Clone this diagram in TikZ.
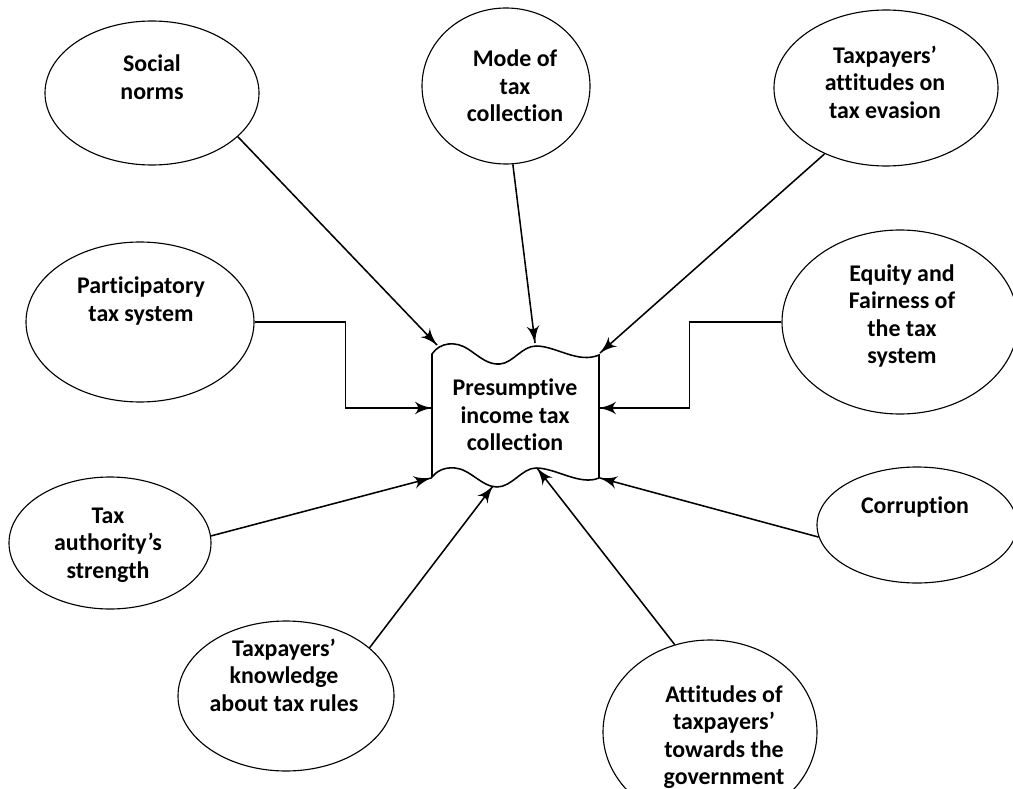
\documentclass[tikz,border=0pt]{standalone}
\usepackage{fontspec}
\setmainfont{Carlito}[Ligatures={TeX,NoCommon}]
\usetikzlibrary{arrows}
\usetikzlibrary{decorations.markings}
\usetikzlibrary{shapes.geometric}
\tikzset{feed/.style = {line width = 1.1pt,
                        decoration={markings,
                                    mark=at position 1 with {\arrow[scale=2]{latex'}}},
                        postaction={decorate}}}
\tikzset{factor/.style 2 args = {draw, ellipse, line width = 0.8pt, inner sep = 0,
                                 minimum width = #1*0.5mm, minimum height = #2*0.5mm}}
\tikzset{lbl/.style = {align = center, inner sep = 0,
                       font = \bfseries\fontsize{17}{19.6}\selectfont}}

\begin{document}
\begin{tikzpicture}[x=0.25mm, y=-0.25mm]
  \useasboundingbox (0, 0) rectangle (1013, 789);

  \node [factor={107}{72}] (soc) at (152, 93) {};
  \node [lbl] (soc-t) at (152, 77) {Social\\norms};
  \node [factor={84}{78}] (mode) at (506, 86) {};
  \node [lbl] (mode-t) at (515, 86) {Mode of\\tax\\collection};
  \node [factor={112}{78}] (evas) at (886, 88) {};
  \node [lbl] (evas-t) at (885, 82) {Taxpayers’\\attitudes on\\tax evasion};
  \node [factor={114}{80}] (part) at (140, 322) {};
  \node [lbl] (part-t) at (141, 301) {Participatory\\tax system};
  \node [factor={118}{92}] (eq) at (900, 322) {};
  \node [lbl] (eq-t) at (902, 316) {Equity and\\Fairness of\\the tax\\system};
  \node [factor={101}{66}] (auth) at (110, 543) {};
  \node [lbl] (auth-t) at (108, 545) {Tax\\authority’s\\strength};
  \node [factor={100}{58}] (corr) at (917, 525) {};
  \node [lbl] (corr-t) at (915, 507) {Corruption};
  \node [factor={108}{75}] (know) at (286, 696) {};
  \node [lbl] (know-t) at (284, 675) {Taxpayers’\\knowledge\\about tax rules};
  \node [factor={107}{92}] (gov) at (710, 732) {};
  \node [lbl] (gov-t) at (724, 737) {Attitudes of\\taxpayers’\\towards the\\government};

  \draw [line width = 1.1pt] (432, 354) .. controls (440, 342) and (456, 341) .. (468, 349)
        .. controls (480, 357) and (488, 365) .. (500, 364)
        .. controls (513, 363) and (522, 346) .. (536, 346)
        .. controls (556, 346) and (578, 364) .. (599, 355) -- (599, 478)
        .. controls (580, 486) and (556, 468) .. (536, 468)
        .. controls (522, 468) and (512, 487) .. (497, 487)
        .. controls (482, 487) and (470, 469) .. (455, 468)
        .. controls (444, 467) and (437, 471) .. (432, 477) -- cycle;
  \node [lbl] (pres) at (515, 415) {Presumptive\\income tax\\collection};

  \coordinate (p-tl) at (437, 345);
  \coordinate (p-tm) at (535, 343);
  \coordinate (p-tr) at (600, 353);
  \coordinate (p-l) at (432, 408);
  \coordinate (p-r) at (599, 408);
  \coordinate (p-bl) at (431, 478);
  \coordinate (p-bm) at (493, 486);
  \coordinate (p-bg) at (537, 468);
  \coordinate (p-br) at (600, 478);

  \draw [feed] (soc.-27) -- (p-tl);
  \draw [feed] (mode.-85) -- (p-tm);
  \draw [feed] (evas.227) -- (p-tr);
  \draw [feed] (part.east) -- ++(91, 0) |- (p-l);
  \draw [feed] (eq.west) -- ++(-92, 0) |- (p-r);
  \draw [feed] (auth.4) -- (p-bl);
  \draw [feed] (corr.187) -- (p-br);
  \draw [feed] (know.30) -- (p-bm);
  \draw [feed] (gov.112) -- (p-bg);
\end{tikzpicture}
\end{document}
